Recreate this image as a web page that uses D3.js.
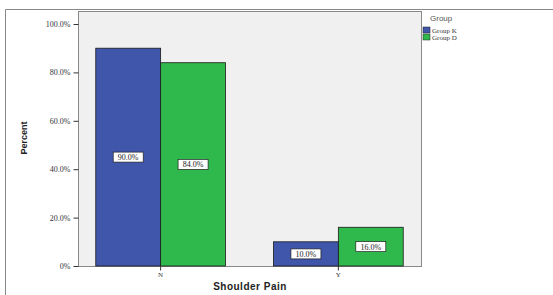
<!DOCTYPE html>
<html><head><meta charset="utf-8">
<script src="https://cdn.jsdelivr.net/npm/d3@7"></script>
<style>body{margin:0;background:#fff}svg{display:block}</style>
</head><body><svg id="c" width="553" height="295"></svg>
<script>
const categories = ["N", "Y"];
const groups = ["Group K", "Group D"];
const groupK = [90.0, 10.0];
const groupD = [84.0, 16.0];
const yTicks = [0, 20, 40, 60, 80, 100];
const colors = ["#3f56ab", "#2fb84b"];

const svg = d3.select("#c");
const L = 78, T = 11, R = 421, B = 266;
const y = d3.scaleLinear().domain([0, 100]).range([B, 24]);
const x = d3.scaleBand().domain(categories).range([L, R]).paddingInner(0.27).paddingOuter(0.1);
const xs = d3.scaleBand().domain(groups).range([0, x.bandwidth()]);

// outer frame
svg.append("path").attr("d", `M5.5,295 V9.5 H553`).attr("fill","none").attr("stroke","#888").attr("stroke-width",1);
// plot bg
svg.append("rect").attr("x",L+0.5).attr("y",T+0.5).attr("width",R-L).attr("height",B-T)
  .attr("fill","#f0f0f0").attr("stroke","#888");

const data = categories.map((c,i)=>({cat:c, vals:[groupK[i], groupD[i]]}));
const g = svg.append("g");
data.forEach(d=>{
  d.vals.forEach((v,j)=>{
    const bx = x(d.cat) + xs(groups[j]);
    g.append("rect").attr("x",bx).attr("y",y(v)).attr("width",xs.bandwidth()).attr("height",B-y(v))
      .attr("fill",colors[j]).attr("stroke","#1a1a1a").attr("stroke-width",0.8);
  });
});
// value labels
data.forEach(d=>{
  d.vals.forEach((v,j)=>{
    const cx = x(d.cat) + xs(groups[j]) + xs.bandwidth()/2;
    const cy = (y(v)+B)/2;
    const txt = v.toFixed(1)+"%";
    const w = 30, h = 10;
    g.append("rect").attr("x",cx-w/2).attr("y",cy-h/2).attr("width",w).attr("height",h)
      .attr("fill","#fff").attr("stroke","#222").attr("stroke-width",0.7);
    g.append("text").attr("x",cx).attr("y",cy+3).attr("text-anchor","middle")
      .attr("font-family","Liberation Serif").attr("font-size",8).attr("fill","#222").text(txt);
  });
});

// y axis
const ya = svg.append("g").attr("transform",`translate(${L+0.5},0)`)
  .call(d3.axisLeft(y).tickValues(yTicks).tickSize(5).tickFormat(d=> d===0 ? "0%" : d.toFixed(1)+"%"));
ya.select(".domain").remove();
ya.selectAll("line").attr("stroke","#333");
ya.selectAll("text").attr("font-family","Liberation Serif").attr("font-size",8).attr("fill","#333");

// x axis
const xa = svg.append("g").attr("transform",`translate(0,${B+0.5})`)
  .call(d3.axisBottom(x).tickSize(4));
xa.select(".domain").remove();
xa.selectAll(".tick").attr("transform", d=>`translate(${x(d)+x.bandwidth()/2},0)`);
xa.selectAll("line").attr("stroke","#333");
xa.selectAll("text").attr("font-family","Liberation Serif").attr("font-size",7).attr("fill","#333").attr("dy","0.5em");

// titles
svg.append("text").attr("x",250).attr("y",290).attr("text-anchor","middle")
  .attr("font-family","Liberation Sans").attr("font-weight","bold").attr("font-size",10).attr("fill","#222")
  .attr("letter-spacing","0.5").text("Shoulder Pain");
svg.append("text").attr("transform","translate(27,138) rotate(-90)").attr("text-anchor","middle")
  .attr("font-family","Liberation Sans").attr("font-weight","bold").attr("font-size",9).attr("fill","#222")
  .text("Percent");

// legend
svg.append("text").attr("x",430).attr("y",21).attr("font-family","Liberation Sans").attr("font-size",8).attr("fill","#555").text("Group");
groups.forEach((gname,j)=>{
  const ly = 27 + j*7;
  svg.append("rect").attr("x",423).attr("y",ly).attr("width",7).attr("height",6).attr("fill",colors[j]).attr("stroke","#222").attr("stroke-width",0.5);
  svg.append("text").attr("x",432).attr("y",ly+5.5).attr("font-family","Liberation Serif").attr("font-size",7).attr("fill","#333").text(gname);
});
</script></body></html>
